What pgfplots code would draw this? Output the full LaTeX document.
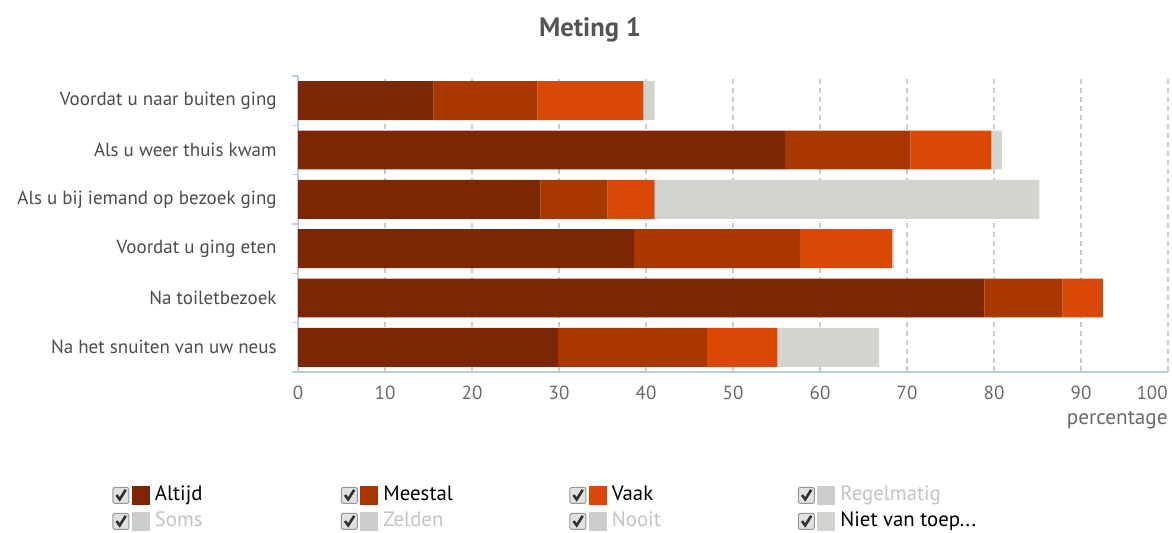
\documentclass[border=0pt]{standalone}
\usepackage{fontspec}
\setmainfont{PT Sans}
\usepackage{pgfplots}
\pgfplotsset{compat=1.18}
\usepackage{pgfplotstable}
\definecolor{c1}{RGB}{124,38,4}
\definecolor{c2}{RGB}{168,56,0}
\definecolor{c3}{RGB}{217,72,5}
\definecolor{c4}{RGB}{211,211,207}
\definecolor{legc}{RGB}{205,205,205}
\definecolor{inact}{RGB}{195,195,195}
\definecolor{axisc}{RGB}{190,205,220}
\definecolor{gridc}{RGB}{190,205,222}
\definecolor{labelc}{RGB}{75,75,75}
\definecolor{tickc}{RGB}{105,105,105}
\definecolor{titlec}{RGB}{85,85,85}
\definecolor{boxc}{RGB}{150,150,150}
\definecolor{boxfill}{RGB}{225,225,225}
\definecolor{checkc}{RGB}{50,50,50}
\pgfplotstableread{
y altijd meestal vaak niet
5 15.6 11.9 12.2 1.3
4 56.0 14.4 9.3 1.2
3 27.9 7.7 5.4 44.2
2 38.6 19.1 10.6 0.2
1 78.9 9.0 4.6 0
0 29.9 17.1 8.1 11.7
}\datatable
\pgfplotsset{chk/.style={legend image code/.code={
  \draw[draw=boxc, fill=boxfill, line width=0.5pt, rounded corners=1pt, solid] (0pt,-4pt) rectangle (8pt,4pt);
  \draw[draw=checkc, fill=none, line width=1.3pt, solid] (1.8pt,0.2pt) -- (3.4pt,-2pt) -- (6.4pt,2.8pt);
  \path[draw=none, fill] (9.5pt,-4.6pt) rectangle (18.5pt,4.6pt);
}}}
\begin{document}
\begin{tikzpicture}[x=1pt,y=1pt]
\useasboundingbox (0,0) rectangle (586,266.5);
\node[anchor=base, font=\bfseries\fontsize{13.3}{15}\selectfont, text=titlec] at (295,248) {Meting 1};
\begin{axis}[
  at={(149pt,80.5pt)}, anchor=south west,
  scale only axis, width=435pt, height=148pt,
  xbar stacked, bar width=0.79,
  xmin=0, xmax=100, ymin=-0.5, ymax=5.5,
  axis x line*=bottom, axis y line*=left,
  axis line style={draw=axisc, line width=0.6pt},
  xtick={0,10,...,90},
  extra x ticks={100},
  extra x tick style={grid=major, xticklabel style={anchor=base east, xshift=0pt}},
  xtick style={draw=axisc, line width=0.6pt},
  tick align=inside, major tick length=3pt,
  xmajorgrids, major grid style={draw=gridc, dash pattern=on 2.5pt off 2pt, line width=0.6pt},
  ytick={0,1,2,3,4,5},
  ytick style={draw=none},
  yticklabels={Na het snuiten van uw neus, Na toiletbezoek, Voordat u ging eten, Als u bij iemand op bezoek ging, Als u weer thuis kwam, Voordat u naar buiten ging},
  extra y ticks={-0.5,0.5,1.5,2.5,3.5,4.5,5.5},
  extra y tick labels={},
  extra y tick style={ytick style={draw=axisc, line width=0.6pt}, tick align=outside, major tick length=3pt, grid=none},
  /pgf/number format/assume math mode=true,
  xticklabel style={font=\fontsize{9.5}{10}\selectfont, text=tickc, anchor=base, inner sep=0pt, yshift=-14pt},
  yticklabel style={font=\fontsize{9.5}{11}\selectfont, text=labelc, anchor=east, inner sep=0pt, xshift=-10.5pt},
  xlabel={percentage},
  xlabel style={at={(axis description cs:1,0)}, anchor=base east, inner sep=0pt, yshift=-26.5pt, font=\fontsize{10.6}{12}\selectfont, text=tickc},
  every axis plot post/.append style={chk},
  legend columns=4,
  legend style={draw=none, fill=none, inner sep=0pt, anchor=north west, at={(-0.2138,-0.3717)},
    font=\fontsize{10.4}{12}\selectfont, nodes={text height=6.5pt, text depth=1.5pt, inner sep=2.5pt},
    /tikz/every even column/.append style={column sep=0pt}},
]
\addplot[fill=c1, draw=none, chk] table[x=altijd, y=y] {\datatable};
\addlegendentry{\makebox[90.5pt][l]{Altijd}}
\addplot[fill=c2, draw=none, chk] table[x=meestal, y=y] {\datatable};
\addlegendentry{\makebox[90.5pt][l]{Meestal}}
\addplot[fill=c3, draw=none, chk] table[x=vaak, y=y] {\datatable};
\addlegendentry{\makebox[90.5pt][l]{Vaak}}
\addlegendimage{fill=legc, draw=none, chk}
\addlegendentry{\makebox[90.5pt][l]{\textcolor{inact}{Regelmatig}}}
\addlegendimage{fill=legc, draw=none, chk}
\addlegendentry{\makebox[90.5pt][l]{\textcolor{inact}{Soms}}}
\addlegendimage{fill=legc, draw=none, chk}
\addlegendentry{\makebox[90.5pt][l]{\textcolor{inact}{Zelden}}}
\addlegendimage{fill=legc, draw=none, chk}
\addlegendentry{\makebox[90.5pt][l]{\textcolor{inact}{Nooit}}}
\addplot[fill=c4, draw=none, chk] table[x=niet, y=y] {\datatable};
\addlegendentry{\makebox[90.5pt][l]{Niet van toep...}}
\end{axis}
\end{tikzpicture}
\end{document}
